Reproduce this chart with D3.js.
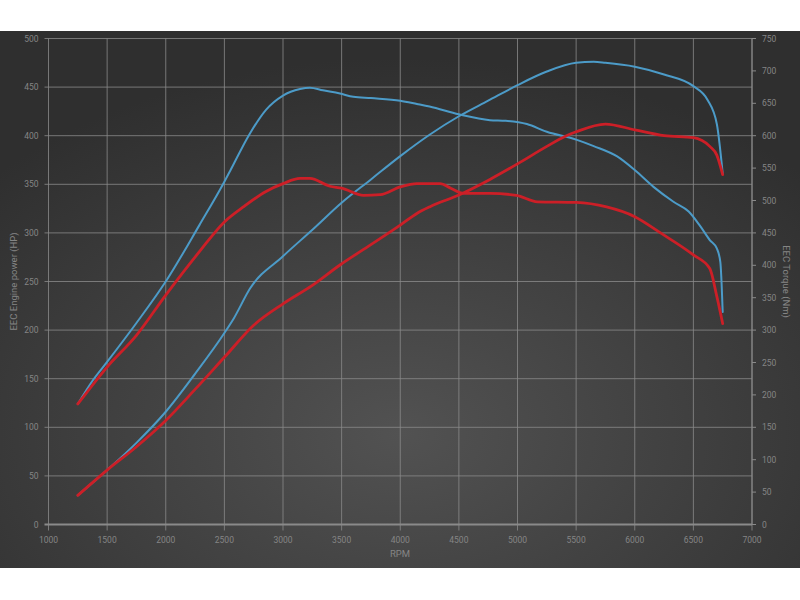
<!DOCTYPE html>
<html>
<head>
<meta charset="utf-8">
<script src="https://cdn.jsdelivr.net/npm/d3@7"></script>
<style>
  body { margin: 0; background: #fff; }
  svg { display: block; font-family: Roboto, "Open Sans", sans-serif; }
</style>
</head>
<body>
<svg width="800" height="600"></svg>
<script>
// x ticks and axis ranges
const rpmTicks = [1000, 1500, 2000, 2500, 3000, 3500, 4000, 4500, 5000, 5500, 6000, 6500, 7000];
const hpTicks = [0, 50, 100, 150, 200, 250, 300, 350, 400, 450, 500];
const nmTicks = [0, 50, 100, 150, 200, 250, 300, 350, 400, 450, 500, 550, 600, 650, 700, 750];

// power curves (HP, left axis)
const bluePowerRpm = [1250, 1500, 1750, 2000, 2250, 2500, 2580, 2720, 3000, 3258, 3500, 3750, 4000, 4250, 4500, 4750, 5000, 5250, 5500, 5650, 5750, 6000, 6250, 6500, 6620, 6700, 6750];
const bluePowerHp  = [30, 56, 84, 116, 155, 197, 212, 243, 276, 304, 331, 355, 379, 401, 420, 436, 452, 466, 475, 476, 475, 471, 463, 451, 437, 412, 361];
const redPowerRpm  = [1250, 1500, 1750, 2000, 2250, 2500, 2750, 3000, 3250, 3486, 3687, 4000, 4142, 4254, 4500, 4765, 5000, 5250, 5400, 5500, 5750, 6000, 6250, 6500, 6640, 6700, 6750];
const redPowerHp   = [30, 56, 80, 107, 139, 172, 205, 227, 246, 267, 283, 308, 320, 327, 339, 355, 371, 389, 399, 404, 412, 406, 400, 398, 389, 380, 360];

// torque curves (Nm, right axis)
const blueTorqueRpm = [1250, 1380, 1500, 1750, 2000, 2287, 2500, 2550, 2713, 2855, 3000, 3145, 3230, 3340, 3486, 3600, 3750, 4000, 4142, 4250, 4500, 4765, 4900, 5080, 5250, 5500, 5650, 5850, 6000, 6160, 6330, 6460, 6560, 6640, 6700, 6730, 6750];
const blueTorqueNm  = [186, 223, 251, 311, 375, 462, 529, 546, 602, 640, 662, 672, 674, 670, 665, 660, 658, 654, 649, 645, 633, 624, 623, 618, 606, 594, 584, 568, 547, 521, 498, 483, 460, 439, 426, 405, 328];
const redTorqueRpm  = [1250, 1500, 1750, 2000, 2287, 2500, 2661, 2855, 3000, 3145, 3230, 3400, 3500, 3687, 3829, 4000, 4142, 4340, 4430, 4540, 4765, 4990, 5170, 5500, 5760, 6000, 6220, 6500, 6640, 6700, 6750];
const redTorqueNm   = [186, 243, 292, 354, 421, 467, 490, 514, 526, 534, 534, 522, 519, 508, 509, 521, 526, 526, 519, 511, 511, 508, 498, 497, 490, 475, 450, 416, 395, 352, 310];

const svg = d3.select("svg");
const pLeft = 48.5, pRight = 752, pTop = 38.5, pBottom = 524.5;

// background
const defs = svg.append("defs");
const grad = defs.append("radialGradient")
    .attr("id", "bg")
    .attr("cx", "50%").attr("cy", "75%").attr("r", "70%");
grad.append("stop").attr("offset", "0%").attr("stop-color", "#525252");
grad.append("stop").attr("offset", "100%").attr("stop-color", "#2f2f2f");
svg.append("rect")
    .attr("x", 0).attr("y", 31).attr("width", 800).attr("height", 537)
    .attr("fill", "url(#bg)");

const x = d3.scaleLinear().domain([1000, 7000]).range([pLeft, pRight]);
const yHp = d3.scaleLinear().domain([0, 500]).range([pBottom, pTop]);
const yNm = d3.scaleLinear().domain([0, 750]).range([pBottom, pTop]);

// grid
svg.append("g").selectAll("line").data(rpmTicks).join("line")
    .attr("x1", d => x(d)).attr("x2", d => x(d))
    .attr("y1", pTop).attr("y2", pBottom + 6)
    .attr("stroke", "#8a8a8a").attr("stroke-width", 1).attr("opacity", 0.8);
svg.append("g").selectAll("line").data(hpTicks.filter(d => d > 0)).join("line")
    .attr("x1", pLeft - 4).attr("x2", pRight)
    .attr("y1", d => yHp(d)).attr("y2", d => yHp(d))
    .attr("stroke", "#8a8a8a").attr("stroke-width", 1).attr("opacity", 0.8);
// baseline
svg.append("line")
    .attr("x1", pLeft - 4).attr("x2", pRight)
    .attr("y1", pBottom).attr("y2", pBottom)
    .attr("stroke", "#8a8a8a").attr("stroke-width", 2);

// right axis
svg.append("line")
    .attr("x1", pRight).attr("x2", pRight).attr("y1", pTop).attr("y2", pBottom)
    .attr("stroke", "#8a8a8a");
svg.append("g").selectAll("line").data(nmTicks).join("line")
    .attr("x1", pRight).attr("x2", pRight + 4)
    .attr("y1", d => yNm(d)).attr("y2", d => yNm(d))
    .attr("stroke", "#8a8a8a");

// tick labels
const lab = "#858585";
svg.append("g").selectAll("text").data(hpTicks).join("text")
    .attr("x", pLeft - 10).attr("y", d => yHp(d) + 3)
    .attr("text-anchor", "end").attr("font-size", 8.5).attr("fill", lab)
    .text(d => d);
svg.append("g").selectAll("text").data(nmTicks).join("text")
    .attr("x", pRight + 10).attr("y", d => yNm(d) + 3)
    .attr("text-anchor", "start").attr("font-size", 8.5).attr("fill", lab)
    .text(d => d);
svg.append("g").selectAll("text").data(rpmTicks).join("text")
    .attr("x", d => x(d)).attr("y", 543)
    .attr("text-anchor", "middle").attr("font-size", 8.5).attr("fill", lab)
    .text(d => d);

// axis titles
svg.append("text").attr("x", 400).attr("y", 557)
    .attr("text-anchor", "middle").attr("font-size", 9.5).attr("fill", lab)
    .text("RPM");
svg.append("text")
    .attr("transform", "translate(17," + (pTop + pBottom) / 2 + ") rotate(-90)")
    .attr("text-anchor", "middle").attr("font-size", 9.5).attr("fill", lab)
    .text("EEC Engine power (HP)");
svg.append("text")
    .attr("transform", "translate(783," + (pTop + pBottom) / 2 + ") rotate(90)")
    .attr("text-anchor", "middle").attr("font-size", 9.5).attr("fill", lab)
    .text("EEC Torque (Nm)");

// curves
const zip = (a, b) => a.map((d, i) => [d, b[i]]);
function curve(rpm, vals, yScale, color, width) {
    const line = d3.line()
        .x(d => x(d[0])).y(d => yScale(d[1]))
        .curve(d3.curveMonotoneX);
    svg.append("path")
        .datum(zip(rpm, vals))
        .attr("d", line)
        .attr("fill", "none")
        .attr("stroke", color)
        .attr("stroke-width", width)
        .attr("stroke-linejoin", "round")
        .attr("stroke-linecap", "round");
}

curve(bluePowerRpm, bluePowerHp, yHp, "#4c9bc8", 2);
curve(blueTorqueRpm, blueTorqueNm, yNm, "#4c9bc8", 2);
curve(redPowerRpm, redPowerHp, yHp, "#cc1f27", 2.8);
curve(redTorqueRpm, redTorqueNm, yNm, "#cc1f27", 2.8);
</script>
</body>
</html>
